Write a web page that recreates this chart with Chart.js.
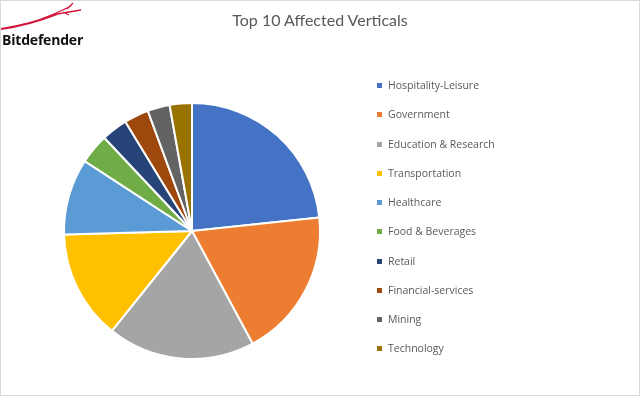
<!DOCTYPE html>
<html>
<head>
<meta charset="utf-8">
<script src="https://cdn.jsdelivr.net/npm/chart.js@4.4.0/dist/chart.umd.min.js"></script>
<style>
  html, body { margin: 0; padding: 0; background: #fff; }
  #wrap { position: relative; width: 638px; height: 394px; border: 1px solid #d9d9d9; overflow: hidden; }
  #chartCanvas { position: absolute; left: -1px; top: -1px; }
  #title { position: absolute; left: 0; width: 638px; top: 9px; text-align: center;
           font-family: Lato, sans-serif; font-size: 16px; color: #595959; }
  #logo { position: absolute; left: 0; top: 0; }
  #logoText { position: absolute; left: 1px; top: 29px; font-family: "Open Sans", sans-serif;
              font-weight: bold; font-size: 14px; color: #111; letter-spacing: -0.2px; }
  #legend { position: absolute; left: 376px; top: 0; font-family: "Open Sans", sans-serif;
            font-size: 10.5px; color: #595959; }
  .item { position: absolute; left: 0; white-space: nowrap; line-height: 14px; }
  .box { display: inline-block; width: 5px; height: 5px; margin-right: 6px; vertical-align: 1px; }
</style>
</head>
<body>
<div id="wrap">
  <canvas id="chartCanvas" width="640" height="396"></canvas>
  <svg id="logo" width="100" height="30">
    <path d="M0,28 Q28,24 56,13" stroke="#d2163c" stroke-width="2" fill="none"/>
    <path d="M40,18 Q52,14 70,5 M56,13 L80,9 M62,11 L68,14 M66,8 L72,2" stroke="#d2163c" stroke-width="1.3" fill="none"/>
  </svg>
  <div id="logoText">Bitdefender</div>
  <div id="title">Top 10 Affected Verticals</div>
  <div id="legend"></div>
</div>
<script>
const verticals = ["Hospitality-Leisure", "Government", "Education & Research", "Transportation",
                   "Healthcare", "Food & Beverages", "Retail", "Financial-services", "Mining", "Technology"];
const shares = [23.3, 18.8, 18.6, 13.8, 9.6, 3.8, 3.3, 3.1, 2.8, 2.8];
const sliceColors = ["#4472C4", "#ED7D31", "#A5A5A5", "#FFC000", "#5B9BD5",
                     "#70AD47", "#264478", "#9E480E", "#636363", "#997300"];

document.addEventListener('DOMContentLoaded', function() {
    const ctx = document.getElementById('chartCanvas').getContext('2d');

    new Chart(ctx, {
        type: 'pie',
        data: {
            labels: verticals,
            datasets: [{
                data: shares,
                backgroundColor: sliceColors,
                borderColor: '#ffffff',
                borderWidth: 2
            }]
        },
        options: {
            responsive: false,
            animation: false,
            layout: { padding: { left: 63, right: 319, top: 102, bottom: 36 } },
            plugins: {
                legend: { display: false },
                tooltip: { enabled: false }
            }
        }
    });

    // legend on the right, one row per vertical
    const legend = document.getElementById('legend');
    verticals.forEach((name, i) => {
        const row = document.createElement('div');
        row.className = 'item';
        row.style.top = (77 + i * 29.25) + 'px';
        row.innerHTML = '<span class="box" style="background:' + sliceColors[i] + '"></span>' + name.replace('&', '&amp;');
        legend.appendChild(row);
    });
});
</script>
</body>
</html>
